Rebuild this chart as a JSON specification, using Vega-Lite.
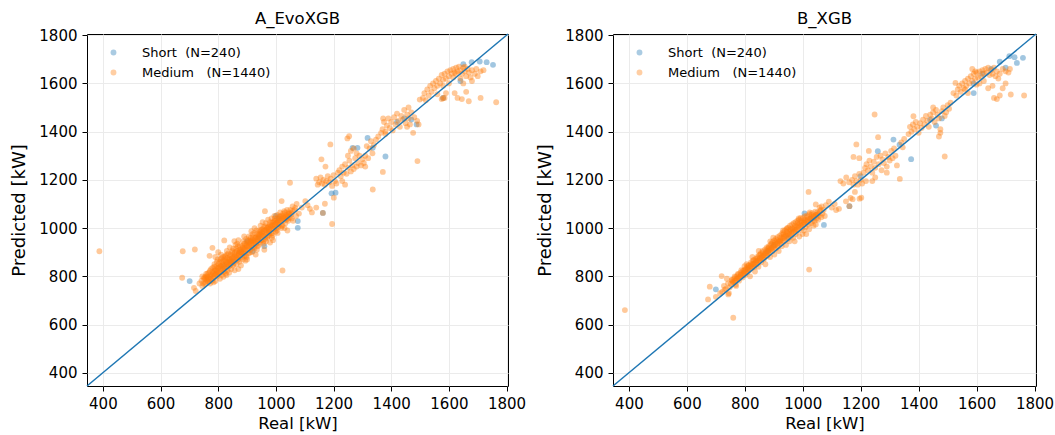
{
"$schema": "https://vega.github.io/schema/vega-lite/v6.json",
"background": "white",
"padding": {"left": 10, "top": 10, "right": 0, "bottom": 0},
"config": {
  "font": "DejaVu Sans",
  "view": {"stroke": "#000000", "strokeWidth": 1},
  "axis": {"grid": true, "gridColor": "#ebebeb", "gridWidth": 1, "domain": false, "tickColor": "#000000", "tickSize": 5, "tickWidth": 1, "labelFontSize": 15, "labelColor": "#000000", "labelPadding": 5, "titleColor": "#000000", "titleFontWeight": "normal", "format": "d"},
  "axisX": {"titleFontSize": 16.5, "titlePadding": 4},
  "axisY": {"titleFontSize": 18, "titlePadding": 10},
  "title": {"fontSize": 16.5, "fontWeight": "normal", "offset": 1, "color": "#000000"},
  "concat": {"spacing": 9}
},
"datasets": {
"diag": [{"x": 345, "y": 345}, {"x": 1805, "y": 1805}],
"a": [
{"g":"S","x":701,"y":780},{"g":"S","x":820,"y":842},{"g":"S","x":850,"y":862},{"g":"S","x":880,"y":900},{"g":"S","x":900,"y":945},{"g":"S","x":920,"y":905},{"g":"S","x":940,"y":960},{"g":"S","x":960,"y":925},{"g":"S","x":1000,"y":1050},{"g":"S","x":1010,"y":1040},{"g":"S","x":1076,"y":1001},{"g":"S","x":1076,"y":1029},{"g":"S","x":1163,"y":1063},{"g":"S","x":1193,"y":1144},{"g":"S","x":1207,"y":1147},{"g":"S","x":1266,"y":1333},{"g":"S","x":1283,"y":1333},{"g":"S","x":1318,"y":1374},{"g":"S","x":1336,"y":1333},{"g":"S","x":1380,"y":1297},{"g":"S","x":1420,"y":1440},{"g":"S","x":1445,"y":1455},{"g":"S","x":1470,"y":1450},{"g":"S","x":1488,"y":1430},{"g":"S","x":1580,"y":1540},{"g":"S","x":1640,"y":1610},{"g":"S","x":1650,"y":1680},{"g":"S","x":1679,"y":1688},{"g":"S","x":1707,"y":1691},{"g":"S","x":1731,"y":1688},{"g":"S","x":1753,"y":1677},
{"g":"M","x":742,"y":782},{"g":"M","x":748,"y":770},{"g":"M","x":752,"y":795},{"g":"M","x":755,"y":775},{"g":"M","x":758,"y":810},{"g":"M","x":745,"y":760},{"g":"M","x":760,"y":788},
{"g":"M","x":762,"y":800},{"g":"M","x":765,"y":778},{"g":"M","x":768,"y":815},{"g":"M","x":770,"y":790},{"g":"M","x":772,"y":770},{"g":"M","x":775,"y":830},{"g":"M","x":778,"y":805},{"g":"M","x":764,"y":790},{"g":"M","x":779,"y":782},
{"g":"M","x":781,"y":818},{"g":"M","x":783,"y":795},{"g":"M","x":786,"y":840},{"g":"M","x":788,"y":808},{"g":"M","x":790,"y":780},{"g":"M","x":792,"y":825},{"g":"M","x":795,"y":860},{"g":"M","x":797,"y":800},{"g":"M","x":799,"y":835},{"g":"M","x":784,"y":775},{"g":"M","x":793,"y":812},
{"g":"M","x":801,"y":850},{"g":"M","x":803,"y":815},{"g":"M","x":806,"y":790},{"g":"M","x":808,"y":870},{"g":"M","x":810,"y":828},{"g":"M","x":812,"y":805},{"g":"M","x":815,"y":845},{"g":"M","x":817,"y":880},{"g":"M","x":819,"y":820},{"g":"M","x":804,"y":838},{"g":"M","x":814,"y":860},{"g":"M","x":818,"y":798},
{"g":"M","x":821,"y":835},{"g":"M","x":823,"y":870},{"g":"M","x":826,"y":812},{"g":"M","x":828,"y":850},{"g":"M","x":830,"y":890},{"g":"M","x":832,"y":825},{"g":"M","x":834,"y":860},{"g":"M","x":836,"y":840},{"g":"M","x":838,"y":815},{"g":"M","x":825,"y":880},{"g":"M","x":839,"y":872},{"g":"M","x":829,"y":805},
{"g":"M","x":841,"y":860},{"g":"M","x":843,"y":890},{"g":"M","x":845,"y":830},{"g":"M","x":847,"y":875},{"g":"M","x":849,"y":905},{"g":"M","x":851,"y":845},{"g":"M","x":853,"y":880},{"g":"M","x":855,"y":860},{"g":"M","x":857,"y":825},{"g":"M","x":859,"y":900},{"g":"M","x":844,"y":850},{"g":"M","x":852,"y":915},
{"g":"M","x":861,"y":880},{"g":"M","x":863,"y":850},{"g":"M","x":865,"y":905},{"g":"M","x":867,"y":870},{"g":"M","x":869,"y":925},{"g":"M","x":871,"y":890},{"g":"M","x":873,"y":860},{"g":"M","x":875,"y":910},{"g":"M","x":877,"y":880},{"g":"M","x":879,"y":845},{"g":"M","x":866,"y":935},{"g":"M","x":874,"y":900},
{"g":"M","x":881,"y":900},{"g":"M","x":883,"y":925},{"g":"M","x":885,"y":870},{"g":"M","x":887,"y":945},{"g":"M","x":889,"y":910},{"g":"M","x":891,"y":885},{"g":"M","x":893,"y":935},{"g":"M","x":895,"y":905},{"g":"M","x":897,"y":955},{"g":"M","x":899,"y":880},{"g":"M","x":886,"y":920},{"g":"M","x":894,"y":865},
{"g":"M","x":901,"y":925},{"g":"M","x":903,"y":950},{"g":"M","x":905,"y":895},{"g":"M","x":907,"y":965},{"g":"M","x":909,"y":935},{"g":"M","x":911,"y":910},{"g":"M","x":913,"y":960},{"g":"M","x":915,"y":930},{"g":"M","x":917,"y":900},{"g":"M","x":919,"y":975},{"g":"M","x":904,"y":940},{"g":"M","x":916,"y":945},
{"g":"M","x":921,"y":950},{"g":"M","x":923,"y":920},{"g":"M","x":925,"y":980},{"g":"M","x":927,"y":945},{"g":"M","x":929,"y":960},{"g":"M","x":931,"y":935},{"g":"M","x":933,"y":990},{"g":"M","x":935,"y":955},{"g":"M","x":937,"y":925},{"g":"M","x":939,"y":970},{"g":"M","x":926,"y":1000},{"g":"M","x":934,"y":910},
{"g":"M","x":941,"y":965},{"g":"M","x":943,"y":990},{"g":"M","x":945,"y":940},{"g":"M","x":947,"y":1010},{"g":"M","x":949,"y":975},{"g":"M","x":951,"y":950},{"g":"M","x":953,"y":995},{"g":"M","x":955,"y":970},{"g":"M","x":957,"y":935},{"g":"M","x":959,"y":1005},{"g":"M","x":946,"y":985},{"g":"M","x":954,"y":1025},
{"g":"M","x":961,"y":990},{"g":"M","x":963,"y":955},{"g":"M","x":965,"y":1020},{"g":"M","x":967,"y":980},{"g":"M","x":969,"y":1000},{"g":"M","x":971,"y":965},{"g":"M","x":973,"y":1035},{"g":"M","x":975,"y":995},{"g":"M","x":977,"y":970},{"g":"M","x":979,"y":1015},{"g":"M","x":966,"y":945},{"g":"M","x":974,"y":985},
{"g":"M","x":981,"y":1005},{"g":"M","x":983,"y":980},{"g":"M","x":985,"y":1040},{"g":"M","x":987,"y":1010},{"g":"M","x":989,"y":970},{"g":"M","x":991,"y":1025},{"g":"M","x":993,"y":995},{"g":"M","x":995,"y":1050},{"g":"M","x":997,"y":1015},{"g":"M","x":999,"y":985},{"g":"M","x":986,"y":960},{"g":"M","x":994,"y":1030},
{"g":"M","x":1001,"y":1020},{"g":"M","x":1003,"y":990},{"g":"M","x":1005,"y":1055},{"g":"M","x":1007,"y":1030},{"g":"M","x":1009,"y":1005},{"g":"M","x":1011,"y":1045},{"g":"M","x":1013,"y":1015},{"g":"M","x":1015,"y":1065},{"g":"M","x":1017,"y":1035},{"g":"M","x":1019,"y":1000},{"g":"M","x":1006,"y":980},
{"g":"M","x":1021,"y":1040},{"g":"M","x":1023,"y":1010},{"g":"M","x":1025,"y":1060},{"g":"M","x":1027,"y":1030},{"g":"M","x":1029,"y":1070},{"g":"M","x":1031,"y":1045},{"g":"M","x":1033,"y":1020},{"g":"M","x":1035,"y":1055},{"g":"M","x":1037,"y":1035},{"g":"M","x":1039,"y":1075},
{"g":"M","x":1041,"y":1050},{"g":"M","x":1043,"y":1030},{"g":"M","x":1045,"y":1065},{"g":"M","x":1048,"y":1045},{"g":"M","x":1050,"y":1075},{"g":"M","x":1052,"y":1055},{"g":"M","x":1055,"y":1040},{"g":"M","x":1058,"y":1070},
{"g":"M","x":756,"y":792},{"g":"M","x":773,"y":798},{"g":"M","x":787,"y":822},{"g":"M","x":798,"y":818},{"g":"M","x":809,"y":842},{"g":"M","x":816,"y":832},{"g":"M","x":827,"y":858},{"g":"M","x":833,"y":848},{"g":"M","x":842,"y":870},{"g":"M","x":848,"y":862},{"g":"M","x":858,"y":885},{"g":"M","x":864,"y":878},{"g":"M","x":872,"y":895},{"g":"M","x":878,"y":905},{"g":"M","x":884,"y":898},{"g":"M","x":892,"y":918},{"g":"M","x":898,"y":928},{"g":"M","x":906,"y":922},{"g":"M","x":912,"y":942},{"g":"M","x":918,"y":952},{"g":"M","x":924,"y":938},{"g":"M","x":932,"y":962},{"g":"M","x":938,"y":948},{"g":"M","x":944,"y":972},{"g":"M","x":952,"y":982},{"g":"M","x":958,"y":968},{"g":"M","x":964,"y":992},{"g":"M","x":972,"y":1002},{"g":"M","x":978,"y":990},{"g":"M","x":984,"y":1012},{"g":"M","x":992,"y":1008},{"g":"M","x":998,"y":1030},{"g":"M","x":1004,"y":1022},{"g":"M","x":1012,"y":1032},{"g":"M","x":1018,"y":1048},{"g":"M","x":1026,"y":1045},{"g":"M","x":1034,"y":1040},{"g":"M","x":1044,"y":1058},
{"g":"M","x":751,"y":790},{"g":"M","x":754,"y":768},{"g":"M","x":757,"y":800},{"g":"M","x":761,"y":782},{"g":"M","x":763,"y":812},{"g":"M","x":766,"y":795},{"g":"M","x":769,"y":778},{"g":"M","x":771,"y":822},{"g":"M","x":774,"y":806},{"g":"M","x":777,"y":790},{"g":"M","x":780,"y":835},{"g":"M","x":782,"y":812},{"g":"M","x":785,"y":800},{"g":"M","x":787,"y":850},{"g":"M","x":789,"y":828},{"g":"M","x":791,"y":806},{"g":"M","x":794,"y":842},{"g":"M","x":796,"y":822},{"g":"M","x":798,"y":870},{"g":"M","x":800,"y":835},{"g":"M","x":802,"y":812},{"g":"M","x":805,"y":860},{"g":"M","x":807,"y":842},{"g":"M","x":809,"y":818},{"g":"M","x":811,"y":875},{"g":"M","x":813,"y":850},{"g":"M","x":816,"y":828},{"g":"M","x":818,"y":866},{"g":"M","x":820,"y":848},{"g":"M","x":822,"y":820},{"g":"M","x":824,"y":885},{"g":"M","x":827,"y":862},{"g":"M","x":829,"y":838},{"g":"M","x":831,"y":875},{"g":"M","x":833,"y":852},{"g":"M","x":835,"y":895},{"g":"M","x":837,"y":868},{"g":"M","x":840,"y":845},{"g":"M","x":842,"y":885},{"g":"M","x":845,"y":862},{"g":"M","x":848,"y":900},{"g":"M","x":850,"y":878},{"g":"M","x":854,"y":852},{"g":"M","x":856,"y":895},{"g":"M","x":858,"y":872},{"g":"M","x":862,"y":915},{"g":"M","x":864,"y":890},{"g":"M","x":868,"y":868},{"g":"M","x":870,"y":908},{"g":"M","x":872,"y":885},{"g":"M","x":876,"y":928},{"g":"M","x":878,"y":900},{"g":"M","x":882,"y":878},{"g":"M","x":884,"y":915},{"g":"M","x":888,"y":895},{"g":"M","x":890,"y":935},{"g":"M","x":892,"y":912},{"g":"M","x":896,"y":885},{"g":"M","x":898,"y":930},{"g":"M","x":902,"y":908},{"g":"M","x":906,"y":948},{"g":"M","x":908,"y":925},{"g":"M","x":910,"y":898},{"g":"M","x":914,"y":945},{"g":"M","x":918,"y":920},{"g":"M","x":920,"y":962},{"g":"M","x":922,"y":938},{"g":"M","x":926,"y":915},{"g":"M","x":928,"y":958},{"g":"M","x":932,"y":935},{"g":"M","x":936,"y":978},{"g":"M","x":938,"y":955},{"g":"M","x":940,"y":930},{"g":"M","x":944,"y":975},{"g":"M","x":948,"y":950},{"g":"M","x":950,"y":992},{"g":"M","x":952,"y":968},{"g":"M","x":956,"y":945},{"g":"M","x":958,"y":988},{"g":"M","x":962,"y":965},{"g":"M","x":964,"y":1008},{"g":"M","x":968,"y":985},{"g":"M","x":970,"y":960},{"g":"M","x":974,"y":1005},{"g":"M","x":976,"y":980},{"g":"M","x":980,"y":1025},{"g":"M","x":982,"y":1000},{"g":"M","x":986,"y":978},{"g":"M","x":988,"y":1022},{"g":"M","x":992,"y":998},{"g":"M","x":996,"y":1040},{"g":"M","x":998,"y":1015},{"g":"M","x":1002,"y":1000},{"g":"M","x":1004,"y":1040},{"g":"M","x":1008,"y":1018},{"g":"M","x":1014,"y":1050},{"g":"M","x":1016,"y":1028},{"g":"M","x":1020,"y":1010},{"g":"M","x":1024,"y":1050},{"g":"M","x":1028,"y":1040},{"g":"M","x":1032,"y":1065},{"g":"M","x":1036,"y":1048},{"g":"M","x":1042,"y":1040},{"g":"M","x":1046,"y":1060},{"g":"M","x":1054,"y":1062},
{"g":"M","x":388,"y":904},{"g":"M","x":677,"y":904},{"g":"M","x":719,"y":911},{"g":"M","x":675,"y":794},{"g":"M","x":716,"y":752},{"g":"M","x":722,"y":739},{"g":"M","x":780,"y":918},{"g":"M","x":821,"y":949},{"g":"M","x":856,"y":946},{"g":"M","x":735,"y":770},{"g":"M","x":745,"y":800},{"g":"M","x":770,"y":885},{"g":"M","x":790,"y":880},{"g":"M","x":800,"y":900},{"g":"M","x":810,"y":890},{"g":"M","x":830,"y":905},{"g":"M","x":840,"y":920},{"g":"M","x":860,"y":930},{"g":"M","x":870,"y":950},{"g":"M","x":890,"y":965},{"g":"M","x":915,"y":987},{"g":"M","x":962,"y":1070},{"g":"M","x":1020,"y":1112},{"g":"M","x":1023,"y":824},{"g":"M","x":1049,"y":1188},{"g":"M","x":1070,"y":1050},{"g":"M","x":1060,"y":1030},{"g":"M","x":1040,"y":990},{"g":"M","x":1030,"y":1000},{"g":"M","x":990,"y":950},{"g":"M","x":980,"y":940},{"g":"M","x":960,"y":910},{"g":"M","x":870,"y":830},{"g":"M","x":900,"y":870},{"g":"M","x":930,"y":890},
{"g":"M","x":1058,"y":1090},{"g":"M","x":1065,"y":1075},{"g":"M","x":1072,"y":1100},{"g":"M","x":1080,"y":1060},{"g":"M","x":1090,"y":1085},{"g":"M","x":1102,"y":1112},{"g":"M","x":1110,"y":1095},{"g":"M","x":1118,"y":1080},{"g":"M","x":1125,"y":1065},{"g":"M","x":1140,"y":1085},{"g":"M","x":1067,"y":1084},{"g":"M","x":1163,"y":1063},
{"g":"M","x":1140,"y":1205},{"g":"M","x":1150,"y":1190},{"g":"M","x":1155,"y":1210},{"g":"M","x":1160,"y":1185},{"g":"M","x":1165,"y":1200},{"g":"M","x":1170,"y":1180},{"g":"M","x":1175,"y":1195},{"g":"M","x":1180,"y":1215},{"g":"M","x":1185,"y":1190},{"g":"M","x":1190,"y":1205},{"g":"M","x":1195,"y":1175},{"g":"M","x":1200,"y":1220},{"g":"M","x":1205,"y":1195},{"g":"M","x":1210,"y":1185},{"g":"M","x":1215,"y":1230},{"g":"M","x":1145,"y":1180},{"g":"M","x":1172,"y":1255},{"g":"M","x":1158,"y":1285},{"g":"M","x":1189,"y":1347},{"g":"M","x":1170,"y":1101},{"g":"M","x":1195,"y":1017},{"g":"M","x":1201,"y":1126},
{"g":"M","x":1220,"y":1240},{"g":"M","x":1225,"y":1215},{"g":"M","x":1230,"y":1255},{"g":"M","x":1235,"y":1230},{"g":"M","x":1240,"y":1265},{"g":"M","x":1245,"y":1225},{"g":"M","x":1250,"y":1250},{"g":"M","x":1255,"y":1280},{"g":"M","x":1260,"y":1235},{"g":"M","x":1265,"y":1260},{"g":"M","x":1270,"y":1245},{"g":"M","x":1275,"y":1290},{"g":"M","x":1280,"y":1255},{"g":"M","x":1285,"y":1270},{"g":"M","x":1290,"y":1300},{"g":"M","x":1295,"y":1260},{"g":"M","x":1300,"y":1285},{"g":"M","x":1305,"y":1270},{"g":"M","x":1310,"y":1300},{"g":"M","x":1230,"y":1195},{"g":"M","x":1240,"y":1180},{"g":"M","x":1250,"y":1300},{"g":"M","x":1260,"y":1320},{"g":"M","x":1270,"y":1330},{"g":"M","x":1280,"y":1310},{"g":"M","x":1254,"y":1381},{"g":"M","x":1248,"y":1372},
{"g":"M","x":1315,"y":1340},{"g":"M","x":1325,"y":1330},{"g":"M","x":1330,"y":1360},{"g":"M","x":1340,"y":1345},{"g":"M","x":1347,"y":1367},{"g":"M","x":1355,"y":1380},{"g":"M","x":1371,"y":1233},{"g":"M","x":1336,"y":1160},{"g":"M","x":1320,"y":1290},{"g":"M","x":1310,"y":1255},{"g":"M","x":1335,"y":1310},
{"g":"M","x":1365,"y":1395},{"g":"M","x":1370,"y":1410},{"g":"M","x":1375,"y":1440},{"g":"M","x":1380,"y":1400},{"g":"M","x":1385,"y":1425},{"g":"M","x":1390,"y":1455},{"g":"M","x":1395,"y":1415},{"g":"M","x":1400,"y":1440},{"g":"M","x":1405,"y":1405},{"g":"M","x":1410,"y":1460},{"g":"M","x":1415,"y":1430},{"g":"M","x":1420,"y":1475},{"g":"M","x":1425,"y":1445},{"g":"M","x":1430,"y":1420},{"g":"M","x":1435,"y":1465},{"g":"M","x":1440,"y":1450},{"g":"M","x":1445,"y":1490},{"g":"M","x":1450,"y":1435},{"g":"M","x":1455,"y":1470},{"g":"M","x":1460,"y":1455},{"g":"M","x":1465,"y":1430},{"g":"M","x":1470,"y":1480},{"g":"M","x":1476,"y":1395},{"g":"M","x":1480,"y":1460},{"g":"M","x":1490,"y":1445},{"g":"M","x":1495,"y":1430},{"g":"M","x":1499,"y":1533},{"g":"M","x":1491,"y":1278},{"g":"M","x":1372,"y":1455},{"g":"M","x":1380,"y":1390},{"g":"M","x":1460,"y":1500},{"g":"M","x":1455,"y":1420},
{"g":"M","x":1510,"y":1540},{"g":"M","x":1515,"y":1560},{"g":"M","x":1520,"y":1530},{"g":"M","x":1525,"y":1575},{"g":"M","x":1530,"y":1550},{"g":"M","x":1535,"y":1590},{"g":"M","x":1540,"y":1565},{"g":"M","x":1545,"y":1600},{"g":"M","x":1550,"y":1580},{"g":"M","x":1555,"y":1610},{"g":"M","x":1560,"y":1590},{"g":"M","x":1565,"y":1620},{"g":"M","x":1570,"y":1600},{"g":"M","x":1575,"y":1635},{"g":"M","x":1580,"y":1615},{"g":"M","x":1585,"y":1640},{"g":"M","x":1590,"y":1620},{"g":"M","x":1595,"y":1650},{"g":"M","x":1600,"y":1630},{"g":"M","x":1605,"y":1655},{"g":"M","x":1610,"y":1640},{"g":"M","x":1615,"y":1660},{"g":"M","x":1620,"y":1645},{"g":"M","x":1625,"y":1665},{"g":"M","x":1630,"y":1650},{"g":"M","x":1635,"y":1670},{"g":"M","x":1640,"y":1655},{"g":"M","x":1645,"y":1640},{"g":"M","x":1650,"y":1665},{"g":"M","x":1655,"y":1650},{"g":"M","x":1660,"y":1630},{"g":"M","x":1665,"y":1660},{"g":"M","x":1670,"y":1645},{"g":"M","x":1675,"y":1625},{"g":"M","x":1680,"y":1655},{"g":"M","x":1690,"y":1640},{"g":"M","x":1700,"y":1630},{"g":"M","x":1710,"y":1650},{"g":"M","x":1615,"y":1625},{"g":"M","x":1625,"y":1640},{"g":"M","x":1640,"y":1620},{"g":"M","x":1655,"y":1670},{"g":"M","x":1600,"y":1600},{"g":"M","x":1590,"y":1560},{"g":"M","x":1580,"y":1590},{"g":"M","x":1560,"y":1555},{"g":"M","x":1620,"y":1560},{"g":"M","x":1630,"y":1540},{"g":"M","x":1645,"y":1535},{"g":"M","x":1660,"y":1565},{"g":"M","x":1669,"y":1526},{"g":"M","x":1710,"y":1540},{"g":"M","x":1764,"y":1522},{"g":"M","x":1585,"y":1540},{"g":"M","x":1575,"y":1535},{"g":"M","x":1650,"y":1600},{"g":"M","x":1680,"y":1610},{"g":"M","x":1695,"y":1660},{"g":"M","x":1720,"y":1655},{"g":"M","x":1580,"y":1540}
],
"b": [
{"g":"S","x":700,"y":746},{"g":"S","x":810,"y":830},{"g":"S","x":880,"y":905},{"g":"S","x":900,"y":930},{"g":"S","x":950,"y":960},{"g":"S","x":1030,"y":1040},{"g":"S","x":1006,"y":1061},{"g":"S","x":1073,"y":1013},{"g":"S","x":1161,"y":1091},{"g":"S","x":1200,"y":1215},{"g":"S","x":1259,"y":1319},{"g":"S","x":1313,"y":1367},{"g":"S","x":1334,"y":1346},{"g":"S","x":1374,"y":1286},{"g":"S","x":1440,"y":1450},{"g":"S","x":1460,"y":1425},{"g":"S","x":1480,"y":1455},{"g":"S","x":1590,"y":1560},{"g":"S","x":1590,"y":1600},{"g":"S","x":1620,"y":1640},{"g":"S","x":1650,"y":1660},{"g":"S","x":1680,"y":1690},{"g":"S","x":1700,"y":1665},{"g":"S","x":1713,"y":1713},{"g":"S","x":1731,"y":1709},{"g":"S","x":1739,"y":1685},{"g":"S","x":1760,"y":1706},
{"g":"M","x":722,"y":735},{"g":"M","x":728,"y":760},{"g":"M","x":735,"y":748},{"g":"M","x":742,"y":770},{"g":"M","x":748,"y":755},{"g":"M","x":755,"y":785},{"g":"M","x":745,"y":730},{"g":"M","x":730,"y":745},{"g":"M","x":738,"y":790},
{"g":"M","x":762,"y":775},{"g":"M","x":765,"y":800},{"g":"M","x":768,"y":765},{"g":"M","x":772,"y":790},{"g":"M","x":776,"y":810},{"g":"M","x":780,"y":782},{"g":"M","x":784,"y":800},{"g":"M","x":788,"y":825},{"g":"M","x":792,"y":795},{"g":"M","x":796,"y":815},{"g":"M","x":770,"y":760},{"g":"M","x":799,"y":842},
{"g":"M","x":801,"y":805},{"g":"M","x":804,"y":830},{"g":"M","x":808,"y":815},{"g":"M","x":812,"y":845},{"g":"M","x":815,"y":825},{"g":"M","x":818,"y":800},{"g":"M","x":822,"y":850},{"g":"M","x":825,"y":835},{"g":"M","x":828,"y":865},{"g":"M","x":832,"y":840},{"g":"M","x":835,"y":820},{"g":"M","x":838,"y":860},{"g":"M","x":806,"y":850},{"g":"M","x":826,"y":880},
{"g":"M","x":841,"y":850},{"g":"M","x":844,"y":875},{"g":"M","x":847,"y":840},{"g":"M","x":850,"y":865},{"g":"M","x":853,"y":890},{"g":"M","x":856,"y":858},{"g":"M","x":859,"y":875},{"g":"M","x":862,"y":900},{"g":"M","x":865,"y":870},{"g":"M","x":868,"y":888},{"g":"M","x":871,"y":850},{"g":"M","x":874,"y":905},{"g":"M","x":877,"y":885},{"g":"M","x":879,"y":915},{"g":"M","x":848,"y":905},
{"g":"M","x":881,"y":895},{"g":"M","x":884,"y":920},{"g":"M","x":887,"y":880},{"g":"M","x":890,"y":910},{"g":"M","x":893,"y":935},{"g":"M","x":896,"y":905},{"g":"M","x":899,"y":925},{"g":"M","x":902,"y":890},{"g":"M","x":905,"y":940},{"g":"M","x":908,"y":915},{"g":"M","x":911,"y":950},{"g":"M","x":914,"y":925},{"g":"M","x":917,"y":905},{"g":"M","x":919,"y":945},{"g":"M","x":888,"y":945},{"g":"M","x":898,"y":960},
{"g":"M","x":921,"y":935},{"g":"M","x":924,"y":960},{"g":"M","x":927,"y":925},{"g":"M","x":930,"y":950},{"g":"M","x":933,"y":975},{"g":"M","x":936,"y":945},{"g":"M","x":939,"y":965},{"g":"M","x":942,"y":930},{"g":"M","x":945,"y":985},{"g":"M","x":948,"y":955},{"g":"M","x":951,"y":975},{"g":"M","x":954,"y":945},{"g":"M","x":957,"y":995},{"g":"M","x":959,"y":965},{"g":"M","x":932,"y":990},{"g":"M","x":946,"y":1000},
{"g":"M","x":961,"y":980},{"g":"M","x":964,"y":1000},{"g":"M","x":967,"y":960},{"g":"M","x":970,"y":985},{"g":"M","x":973,"y":1010},{"g":"M","x":976,"y":975},{"g":"M","x":979,"y":995},{"g":"M","x":982,"y":1020},{"g":"M","x":985,"y":990},{"g":"M","x":988,"y":965},{"g":"M","x":991,"y":1010},{"g":"M","x":994,"y":1030},{"g":"M","x":997,"y":1000},{"g":"M","x":999,"y":975},{"g":"M","x":972,"y":945},{"g":"M","x":986,"y":1040},
{"g":"M","x":1001,"y":1015},{"g":"M","x":1004,"y":990},{"g":"M","x":1007,"y":1035},{"g":"M","x":1010,"y":1005},{"g":"M","x":1013,"y":1025},{"g":"M","x":1016,"y":1045},{"g":"M","x":1019,"y":1015},{"g":"M","x":1022,"y":995},{"g":"M","x":1025,"y":1040},{"g":"M","x":1028,"y":1020},{"g":"M","x":1031,"y":1055},{"g":"M","x":1034,"y":1030},{"g":"M","x":1037,"y":1010},{"g":"M","x":1039,"y":1045},{"g":"M","x":1012,"y":975},{"g":"M","x":1024,"y":1065},
{"g":"M","x":1041,"y":1030},{"g":"M","x":1044,"y":1055},{"g":"M","x":1047,"y":1040},{"g":"M","x":1050,"y":1065},{"g":"M","x":1053,"y":1035},{"g":"M","x":1056,"y":1050},{"g":"M","x":1060,"y":1070},{"g":"M","x":1064,"y":1045},{"g":"M","x":1068,"y":1060},{"g":"M","x":1072,"y":1075},{"g":"M","x":1076,"y":1050},{"g":"M","x":1045,"y":1015},{"g":"M","x":1058,"y":1085},
{"g":"M","x":758,"y":778},{"g":"M","x":774,"y":792},{"g":"M","x":786,"y":808},{"g":"M","x":797,"y":822},{"g":"M","x":810,"y":835},{"g":"M","x":820,"y":842},{"g":"M","x":830,"y":852},{"g":"M","x":840,"y":865},{"g":"M","x":852,"y":872},{"g":"M","x":861,"y":884},{"g":"M","x":870,"y":895},{"g":"M","x":882,"y":905},{"g":"M","x":892,"y":918},{"g":"M","x":903,"y":928},{"g":"M","x":913,"y":938},{"g":"M","x":923,"y":945},{"g":"M","x":934,"y":958},{"g":"M","x":944,"y":968},{"g":"M","x":955,"y":975},{"g":"M","x":965,"y":985},{"g":"M","x":975,"y":992},{"g":"M","x":984,"y":1005},{"g":"M","x":995,"y":1012},{"g":"M","x":1005,"y":1022},{"g":"M","x":1015,"y":1030},{"g":"M","x":1027,"y":1038},{"g":"M","x":1036,"y":1048},{"g":"M","x":1048,"y":1055},
{"g":"M","x":752,"y":768},{"g":"M","x":756,"y":785},{"g":"M","x":760,"y":775},{"g":"M","x":764,"y":792},{"g":"M","x":767,"y":782},{"g":"M","x":771,"y":800},{"g":"M","x":775,"y":790},{"g":"M","x":778,"y":808},{"g":"M","x":782,"y":795},{"g":"M","x":785,"y":815},{"g":"M","x":789,"y":805},{"g":"M","x":793,"y":822},{"g":"M","x":797,"y":810},{"g":"M","x":800,"y":828},{"g":"M","x":803,"y":818},{"g":"M","x":807,"y":838},{"g":"M","x":811,"y":825},{"g":"M","x":814,"y":845},{"g":"M","x":817,"y":835},{"g":"M","x":821,"y":858},{"g":"M","x":824,"y":842},{"g":"M","x":827,"y":850},{"g":"M","x":831,"y":868},{"g":"M","x":834,"y":852},{"g":"M","x":837,"y":872},{"g":"M","x":840,"y":858},{"g":"M","x":843,"y":880},{"g":"M","x":846,"y":865},{"g":"M","x":849,"y":888},{"g":"M","x":852,"y":875},{"g":"M","x":855,"y":895},{"g":"M","x":858,"y":880},{"g":"M","x":861,"y":905},{"g":"M","x":864,"y":888},{"g":"M","x":867,"y":878},{"g":"M","x":870,"y":912},{"g":"M","x":873,"y":895},{"g":"M","x":876,"y":920},{"g":"M","x":879,"y":900},{"g":"M","x":883,"y":925},{"g":"M","x":886,"y":910},{"g":"M","x":889,"y":932},{"g":"M","x":892,"y":915},{"g":"M","x":895,"y":942},{"g":"M","x":898,"y":920},{"g":"M","x":901,"y":948},{"g":"M","x":904,"y":930},{"g":"M","x":907,"y":955},{"g":"M","x":910,"y":935},{"g":"M","x":913,"y":962},{"g":"M","x":916,"y":945},{"g":"M","x":920,"y":968},{"g":"M","x":923,"y":950},{"g":"M","x":926,"y":975},{"g":"M","x":929,"y":958},{"g":"M","x":932,"y":982},{"g":"M","x":935,"y":965},{"g":"M","x":938,"y":990},{"g":"M","x":941,"y":970},{"g":"M","x":944,"y":995},{"g":"M","x":947,"y":978},{"g":"M","x":950,"y":1002},{"g":"M","x":953,"y":985},{"g":"M","x":956,"y":1010},{"g":"M","x":960,"y":990},{"g":"M","x":963,"y":1015},{"g":"M","x":966,"y":995},{"g":"M","x":969,"y":1020},{"g":"M","x":972,"y":1000},{"g":"M","x":975,"y":1025},{"g":"M","x":978,"y":1005},{"g":"M","x":981,"y":1030},{"g":"M","x":984,"y":1012},{"g":"M","x":987,"y":1035},{"g":"M","x":990,"y":1018},{"g":"M","x":993,"y":1042},{"g":"M","x":996,"y":1022},{"g":"M","x":1000,"y":1040},{"g":"M","x":1003,"y":1025},{"g":"M","x":1006,"y":1048},{"g":"M","x":1009,"y":1030},{"g":"M","x":1014,"y":1052},{"g":"M","x":1018,"y":1035},{"g":"M","x":1023,"y":1058},{"g":"M","x":1027,"y":1040},{"g":"M","x":1032,"y":1062},{"g":"M","x":1038,"y":1048},{"g":"M","x":1043,"y":1068},{"g":"M","x":1052,"y":1058},{"g":"M","x":1062,"y":1075},
{"g":"M","x":386,"y":660},{"g":"M","x":760,"y":628},{"g":"M","x":679,"y":757},{"g":"M","x":673,"y":704},{"g":"M","x":720,"y":801},{"g":"M","x":743,"y":725},{"g":"M","x":700,"y":715},{"g":"M","x":715,"y":730},{"g":"M","x":1022,"y":828},{"g":"M","x":1020,"y":1150},{"g":"M","x":1045,"y":1098},{"g":"M","x":1065,"y":1090},{"g":"M","x":1080,"y":1095},{"g":"M","x":1090,"y":1110},{"g":"M","x":1100,"y":1085},{"g":"M","x":1110,"y":1100},{"g":"M","x":1115,"y":1075},{"g":"M","x":1125,"y":1080},{"g":"M","x":1149,"y":1111},{"g":"M","x":1161,"y":1091},{"g":"M","x":1172,"y":1120},{"g":"M","x":1165,"y":1125},
{"g":"M","x":1130,"y":1195},{"g":"M","x":1140,"y":1185},{"g":"M","x":1150,"y":1210},{"g":"M","x":1160,"y":1190},{"g":"M","x":1170,"y":1200},{"g":"M","x":1175,"y":1180},{"g":"M","x":1180,"y":1215},{"g":"M","x":1185,"y":1195},{"g":"M","x":1190,"y":1180},{"g":"M","x":1195,"y":1225},{"g":"M","x":1200,"y":1200},{"g":"M","x":1205,"y":1185},{"g":"M","x":1210,"y":1230},{"g":"M","x":1202,"y":1126},{"g":"M","x":1196,"y":1122},{"g":"M","x":1185,"y":1347},{"g":"M","x":1195,"y":1290},{"g":"M","x":1175,"y":1295},{"g":"M","x":1180,"y":1150},
{"g":"M","x":1215,"y":1250},{"g":"M","x":1220,"y":1265},{"g":"M","x":1225,"y":1240},{"g":"M","x":1230,"y":1280},{"g":"M","x":1235,"y":1255},{"g":"M","x":1240,"y":1230},{"g":"M","x":1245,"y":1275},{"g":"M","x":1248,"y":1471},{"g":"M","x":1250,"y":1250},{"g":"M","x":1255,"y":1295},{"g":"M","x":1260,"y":1377},{"g":"M","x":1262,"y":1265},{"g":"M","x":1268,"y":1300},{"g":"M","x":1272,"y":1240},{"g":"M","x":1275,"y":1285},{"g":"M","x":1280,"y":1270},{"g":"M","x":1285,"y":1310},{"g":"M","x":1290,"y":1255},{"g":"M","x":1295,"y":1295},{"g":"M","x":1300,"y":1280},{"g":"M","x":1305,"y":1320},{"g":"M","x":1310,"y":1290},{"g":"M","x":1315,"y":1330},{"g":"M","x":1320,"y":1300},{"g":"M","x":1325,"y":1260},{"g":"M","x":1335,"y":1204},{"g":"M","x":1290,"y":1230},{"g":"M","x":1250,"y":1210},{"g":"M","x":1240,"y":1195},{"g":"M","x":1228,"y":1320},{"g":"M","x":1218,"y":1195},{"g":"M","x":1340,"y":1355},{"g":"M","x":1345,"y":1335},{"g":"M","x":1350,"y":1370},
{"g":"M","x":1365,"y":1390},{"g":"M","x":1370,"y":1420},{"g":"M","x":1375,"y":1400},{"g":"M","x":1380,"y":1430},{"g":"M","x":1382,"y":1464},{"g":"M","x":1385,"y":1410},{"g":"M","x":1390,"y":1440},{"g":"M","x":1395,"y":1420},{"g":"M","x":1400,"y":1395},{"g":"M","x":1405,"y":1435},{"g":"M","x":1410,"y":1415},{"g":"M","x":1415,"y":1450},{"g":"M","x":1420,"y":1430},{"g":"M","x":1425,"y":1465},{"g":"M","x":1430,"y":1445},{"g":"M","x":1435,"y":1420},{"g":"M","x":1440,"y":1470},{"g":"M","x":1445,"y":1455},{"g":"M","x":1450,"y":1480},{"g":"M","x":1455,"y":1440},{"g":"M","x":1460,"y":1490},{"g":"M","x":1465,"y":1470},{"g":"M","x":1470,"y":1455},{"g":"M","x":1475,"y":1395},{"g":"M","x":1480,"y":1485},{"g":"M","x":1485,"y":1500},{"g":"M","x":1490,"y":1465},{"g":"M","x":1490,"y":1297},{"g":"M","x":1495,"y":1480},{"g":"M","x":1500,"y":1510},{"g":"M","x":1470,"y":1380},{"g":"M","x":1475,"y":1410},{"g":"M","x":1505,"y":1495},{"g":"M","x":1510,"y":1520},{"g":"M","x":1450,"y":1500},
{"g":"M","x":1520,"y":1560},{"g":"M","x":1527,"y":1602},{"g":"M","x":1530,"y":1550},{"g":"M","x":1535,"y":1575},{"g":"M","x":1540,"y":1590},{"g":"M","x":1545,"y":1565},{"g":"M","x":1550,"y":1600},{"g":"M","x":1555,"y":1580},{"g":"M","x":1560,"y":1610},{"g":"M","x":1565,"y":1590},{"g":"M","x":1570,"y":1620},{"g":"M","x":1575,"y":1600},{"g":"M","x":1580,"y":1630},{"g":"M","x":1585,"y":1610},{"g":"M","x":1590,"y":1640},{"g":"M","x":1595,"y":1620},{"g":"M","x":1600,"y":1645},{"g":"M","x":1605,"y":1625},{"g":"M","x":1610,"y":1650},{"g":"M","x":1615,"y":1630},{"g":"M","x":1620,"y":1655},{"g":"M","x":1625,"y":1640},{"g":"M","x":1630,"y":1660},{"g":"M","x":1635,"y":1645},{"g":"M","x":1640,"y":1665},{"g":"M","x":1645,"y":1635},{"g":"M","x":1650,"y":1655},{"g":"M","x":1655,"y":1640},{"g":"M","x":1660,"y":1665},{"g":"M","x":1665,"y":1630},{"g":"M","x":1670,"y":1650},{"g":"M","x":1675,"y":1620},{"g":"M","x":1680,"y":1640},{"g":"M","x":1690,"y":1660},{"g":"M","x":1700,"y":1650},{"g":"M","x":1710,"y":1645},{"g":"M","x":1715,"y":1660},{"g":"M","x":1640,"y":1580},{"g":"M","x":1655,"y":1590},{"g":"M","x":1660,"y":1540},{"g":"M","x":1670,"y":1535},{"g":"M","x":1680,"y":1550},{"g":"M","x":1700,"y":1600},{"g":"M","x":1718,"y":1554},{"g":"M","x":1764,"y":1550},{"g":"M","x":1690,"y":1580},{"g":"M","x":1570,"y":1560},{"g":"M","x":1600,"y":1595},{"g":"M","x":1560,"y":1575},{"g":"M","x":1610,"y":1600},{"g":"M","x":1625,"y":1610},{"g":"M","x":1595,"y":1650},{"g":"M","x":1585,"y":1660}
]
},
"hconcat": [
{
  "title": "A_EvoXGB",
  "width": 421, "height": 352,
  "layer": [
    {"data": {"name": "a"},
     "mark": {"type": "circle", "size": 34, "opacity": 0.42},
     "encoding": {
       "x": {"field": "x", "type": "quantitative", "scale": {"domain": [345, 1805], "nice": false, "zero": false}, "axis": {"values": [400, 600, 800, 1000, 1200, 1400, 1600, 1800], "title": "Real [kW]"}},
       "y": {"field": "y", "type": "quantitative", "scale": {"domain": [345, 1805], "nice": false, "zero": false}, "axis": {"values": [400, 600, 800, 1000, 1200, 1400, 1600, 1800], "title": "Predicted [kW]"}},
       "color": {"field": "g", "type": "nominal", "scale": {"domain": ["S", "M"], "range": ["#1f77b4", "#ff7f0e"]},
         "legend": {"orient": "none", "legendX": 20, "legendY": 12, "padding": 0, "title": null, "symbolSize": 34, "symbolOpacity": 0.38, "symbolStrokeWidth": 0, "symbolType": "circle", "labelFontSize": 13, "labelColor": "#000000", "labelOffset": 22, "rowPadding": 6, "labelExpr": "datum.label == 'S' ? 'Short\u00a0\u00a0(N=240)' : 'Medium\u00a0\u00a0\u00a0(N=1440)'"}}
     }},
    {"data": {"name": "diag"},
     "mark": {"type": "line", "color": "#1f77b4", "strokeWidth": 1.5},
     "encoding": {
       "x": {"field": "x", "type": "quantitative", "scale": {"domain": [345, 1805], "nice": false, "zero": false}},
       "y": {"field": "y", "type": "quantitative", "scale": {"domain": [345, 1805], "nice": false, "zero": false}}
     }}
  ]
},
{
  "title": "B_XGB",
  "width": 423, "height": 352,
  "layer": [
    {"data": {"name": "b"},
     "mark": {"type": "circle", "size": 34, "opacity": 0.42},
     "encoding": {
       "x": {"field": "x", "type": "quantitative", "scale": {"domain": [345, 1805], "nice": false, "zero": false}, "axis": {"values": [400, 600, 800, 1000, 1200, 1400, 1600, 1800], "title": "Real [kW]"}},
       "y": {"field": "y", "type": "quantitative", "scale": {"domain": [345, 1805], "nice": false, "zero": false}, "axis": {"values": [400, 600, 800, 1000, 1200, 1400, 1600, 1800], "title": "Predicted [kW]"}},
       "color": {"field": "g", "type": "nominal", "scale": {"domain": ["S", "M"], "range": ["#1f77b4", "#ff7f0e"]},
         "legend": {"orient": "none", "legendX": 20, "legendY": 12, "padding": 0, "title": null, "symbolSize": 34, "symbolOpacity": 0.38, "symbolStrokeWidth": 0, "symbolType": "circle", "labelFontSize": 13, "labelColor": "#000000", "labelOffset": 22, "rowPadding": 6, "labelExpr": "datum.label == 'S' ? 'Short\u00a0\u00a0(N=240)' : 'Medium\u00a0\u00a0\u00a0(N=1440)'"}}
     }},
    {"data": {"name": "diag"},
     "mark": {"type": "line", "color": "#1f77b4", "strokeWidth": 1.5},
     "encoding": {
       "x": {"field": "x", "type": "quantitative", "scale": {"domain": [345, 1805], "nice": false, "zero": false}},
       "y": {"field": "y", "type": "quantitative", "scale": {"domain": [345, 1805], "nice": false, "zero": false}}
     }}
  ]
}
],
"resolve": {"scale": {"color": "independent", "x": "independent", "y": "independent"}, "legend": {"color": "independent"}}
}
